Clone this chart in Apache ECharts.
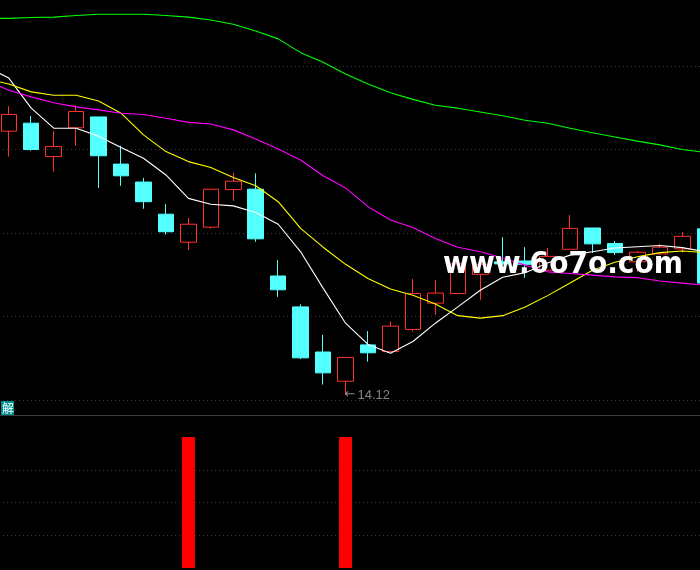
<!DOCTYPE html>
<html><head><meta charset="utf-8">
<style>html,body{margin:0;padding:0;background:#000;overflow:hidden}#c{width:700px;height:570px}</style>
<script src="https://cdn.jsdelivr.net/npm/echarts@6/dist/echarts.min.js"></script>
</head><body><div id="c"></div>
<script>
const opens  = [null,20.44,20.63,19.83,20.52,20.78,19.65,19.22,18.45,17.78,18.14,19.04,19.05,16.97,16.23,15.15,14.45,15.32,15.16,15.69,16.32,16.55,17.01,17.31,17.33,17.11,17.61,18.12,17.75,17.31,17.50,17.62,18.10];
const closes = [null,20.84,20.00,20.07,20.91,19.85,19.37,18.75,18.03,18.21,19.05,19.24,17.86,16.64,15.01,14.65,15.02,15.13,15.77,16.55,16.56,17.26,17.25,17.26,17.25,17.44,18.11,17.74,17.53,17.54,17.66,17.92,16.80];
const lows   = [null,19.83,19.97,19.47,20.09,19.08,19.13,18.58,17.96,17.59,18.10,18.77,17.79,16.47,14.98,14.37,14.12,14.92,15.16,15.64,16.04,16.55,16.40,17.23,16.93,17.11,17.61,17.52,17.47,17.07,17.47,17.53,16.73];
const highs  = [null,21.04,20.80,20.44,21.06,20.78,20.09,19.32,18.69,18.36,19.05,19.44,19.43,17.35,16.29,15.56,15.02,15.65,15.88,16.90,16.87,17.26,17.25,17.90,17.66,17.64,18.43,18.12,17.81,17.57,17.74,18.02,18.10];
const maWhite   = [21.98,21.71,20.99,20.51,20.51,20.32,20.05,19.79,19.39,18.83,18.69,18.65,18.49,18.21,17.55,16.68,15.84,15.33,15.12,15.40,15.84,16.23,16.63,16.94,17.05,17.28,17.47,17.55,17.64,17.67,17.70,17.65,17.55];
const maYellow  = [21.69,21.57,21.38,21.30,21.30,21.16,20.87,20.35,19.95,19.71,19.57,19.33,19.13,18.75,18.11,17.66,17.25,16.91,16.66,16.51,16.30,16.02,15.96,16.02,16.23,16.50,16.80,17.11,17.30,17.43,17.53,17.57,17.53];
const maMagenta = [21.66,21.42,21.26,21.12,21.02,20.95,20.87,20.84,20.75,20.65,20.61,20.47,20.25,20.01,19.75,19.37,19.08,18.63,18.31,18.13,17.87,17.66,17.55,17.40,17.23,17.07,17.03,16.99,16.95,16.93,16.85,16.80,16.75];
const maGreen   = [23.14,23.14,23.16,23.17,23.21,23.24,23.24,23.24,23.21,23.17,23.10,23.00,22.84,22.65,22.32,22.09,21.81,21.57,21.36,21.20,21.06,20.99,20.90,20.81,20.70,20.63,20.51,20.40,20.30,20.20,20.11,20.00,19.93];
const signal    = [0,0,0,0,0,0,0,0,0,4,0,0,0,0,0,0,4,0,0,0,0,0,0,0,0,0,0,0,0,0,0,0,0];
const categories = opens.map((_, i) => 'K' + i);
const lowIndex = 16, lowValue = 14.12;
const watermark = 'www.6o7o.com', badge = '解';

const candles = opens.map((o, i) => o === null ? ['-','-','-','-'] : [o, closes[i], lows[i], highs[i]]);
const dotted = {show:true, lineStyle:{color:'#3a3a3a', type:[1,3], width:1}};
const maLine = (data, color) => ({type:'line', data, symbol:'none', silent:true, z:5, animation:false, clip:false,
  lineStyle:{color, width:1.1}, itemStyle:{color}});

const chart = echarts.init(document.getElementById('c'), null, {renderer:'canvas'});
chart.setOption({
  animation:false, backgroundColor:'#000',
  grid:[
    {left:-24.9, width:740.9, top:-17.5, height:417.5, outerBoundsMode:'none'},
    {left:-24.9, width:740.9, top:437, height:131, outerBoundsMode:'none'}
  ],
  xAxis:[
    {type:'category', data:categories, gridIndex:0, boundaryGap:true, axisLine:{show:false}, axisTick:{show:false}, axisLabel:{show:false}, splitLine:{show:false}},
    {type:'category', data:categories, gridIndex:1, boundaryGap:true, axisLine:{show:false}, axisTick:{show:false}, axisLabel:{show:false}, splitLine:{show:false}}
  ],
  yAxis:[
    {type:'value', gridIndex:0, min:14, max:24, interval:2, axisLine:{show:false}, axisTick:{show:false}, axisLabel:{show:false}, splitLine:dotted},
    {type:'value', gridIndex:1, min:0, max:4, interval:1, axisLine:{show:false}, axisTick:{show:false}, axisLabel:{show:false}, splitLine:Object.assign({showMinLine:false, showMaxLine:false}, dotted)}
  ],
  series:[
    {type:'candlestick', data:candles, barWidth:16, xAxisIndex:0, yAxisIndex:0, z:3, silent:true,
      itemStyle:{color:'transparent', color0:'#54ffff', borderColor:'#ff3232', borderColor0:'#54ffff', borderWidth:1}},
    maLine(maWhite,'#ffffff'), maLine(maYellow,'#ffff00'), maLine(maMagenta,'#ff00ff'), maLine(maGreen,'#00ff00'),
    {type:'scatter', data:[[lowIndex, lowValue]], symbolSize:0, silent:true, z:6,
      label:{show:true, position:'right', distance:-1, formatter:'{a|←}{b|'+lowValue+'}',
        rich:{a:{color:'#a8a8a8', fontSize:13, fontFamily:'DejaVu Sans', padding:[0,2,0,0]}, b:{color:'#a4a8a8', fontSize:13, fontFamily:'Liberation Sans'}}}},
    {type:'bar', data:signal, xAxisIndex:1, yAxisIndex:1, barWidth:13, silent:true, itemStyle:{color:'#ff0000'}}
  ],
  graphic:[
    {type:'rect', x:0, y:415, shape:{width:700, height:1}, style:{fill:'#3c3c3c'}, silent:true, z:10},
    {type:'rect', x:1, y:401, shape:{width:13, height:14}, style:{fill:'#009090'}, silent:true, z:10},
    {type:'text', x:2, y:402, style:{text:badge, fill:'#fff', font:'12px "Noto Sans CJK SC"'}, silent:true, z:11},
    {type:'text', x:443, y:249, scaleX:0.905, style:{text:watermark, fill:'#fff', font:'bold 31px "DejaVu Sans"', shadowBlur:2, shadowColor:'#999'}, silent:true, z:20}
  ]
});
</script></body></html>
